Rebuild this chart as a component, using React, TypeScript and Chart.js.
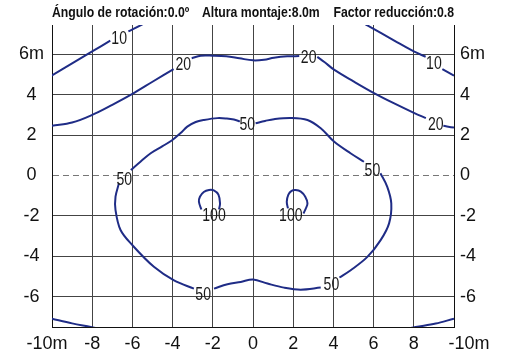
import React, { useEffect, useRef } from 'react';
import { Chart, registerables } from 'chart.js';

Chart.register(...registerables);

// ---- axes ----
const X_MIN = -10;
const X_MAX = 10;
const Y_MIN = -7.5;
const Y_MAX = 7.45;
const X_TICKS = [-10, -8, -6, -4, -2, 0, 2, 4, 6, 8, 10];
const X_TICK_LABELS = ['-10m', '-8', '-6', '-4', '-2', '0', '2', '4', '6', '8', '-10m'];
const Y_TICKS = [-6, -4, -2, 0, 2, 4, 6];
const Y_TICK_LABELS = ['-6', '-4', '-2', '0', '2', '4', '6m'];

const TITLE_PARTS = ['Ángulo de rotación:0.0º', 'Altura montaje:8.0m', 'Factor reducción:0.8'];

// ---- isolines (x m, y m); null = gap where a value label sits ----
type Pt = [number, number] | null;

const ISO_10_LEFT: Pt[] = [
  [-10.3, 4.77], [-10, 4.95], [-9, 5.55], [-8, 6.14], [-7.1, 6.68], null,
  [-6.2, 7.13], [-5.6, 7.43], [-5.3, 7.6],
];
const ISO_10_RIGHT: Pt[] = [
  [5.4, 7.6], [5.69, 7.43], [6.4, 7.03], [7.18, 6.59], [8, 6.14], [8.59, 5.88], null,
  [9.42, 5.27], [10, 4.94], [10.3, 4.77],
];
const ISO_20: Pt[] = [
  [-10.3, 2.4], [-10, 2.46], [-9, 2.62], [-8, 3.0], [-7, 3.5], [-6, 4.04], [-5, 4.64], [-3.95, 5.27], null,
  [-3.05, 5.8], [-2.6, 5.93], [-2, 5.93], [-1.33, 5.9], [-0.67, 5.8], [0, 5.7], [0.55, 5.73], [1.04, 5.83],
  [1.7, 5.9], [2.3, 5.91], null,
  [3.2, 5.87], [3.55, 5.62], [4.03, 5.24], [5, 4.66], [6.02, 4.08], [7, 3.58], [8.03, 3.09], [8.6, 2.84], null,
  [9.47, 2.46], [10, 2.37], [10.3, 2.33],
];
const ISO_50: Pt[] = [
  [-6.08, 0.27], [-5.6, 0.68], [-5.09, 1.1], [-4.5, 1.45], [-4.01, 1.76], [-3.6, 2.1], [-3.27, 2.42],
  [-2.85, 2.65], [-2.44, 2.75], [-1.77, 2.84], [-1.3, 2.82], [-0.95, 2.77], [-0.65, 2.68], null,
  [0.13, 2.59], [0.6, 2.7], [1.04, 2.79], [1.88, 2.85], [2.71, 2.75], [3.37, 2.34], [4.03, 1.68],
  [4.85, 1.1], [5.52, 0.68], null,
  [6.34, 0.11], [6.68, -0.56], [6.88, -1.38], [6.77, -2.37], [6.35, -3.2], [5.69, -4.03], [4.86, -4.69],
  [4.3, -5.05], null,
  [3.37, -5.55], [2.37, -5.65], [1.54, -5.55], [0.72, -5.35], [0, -5.15], [-0.61, -5.27], [-1.27, -5.38],
  [-1.94, -5.6], null,
  [-2.94, -5.6], [-3.93, -5.19], [-4.93, -4.52], [-6.0, -3.45], [-6.59, -2.7], [-6.84, -1.71],
  [-6.84, -1.05], [-6.67, -0.39],
];
const ISO_100_LEFT: Pt[] = [
  [-1.69, -1.68], [-1.64, -1.38], [-1.72, -0.95], [-1.95, -0.74], [-2.19, -0.72], [-2.45, -0.82],
  [-2.64, -1.05], [-2.69, -1.3], [-2.57, -1.68],
];
const ISO_100_RIGHT: Pt[] = [
  [1.74, -1.63], [1.68, -1.3], [1.76, -0.95], [1.92, -0.76], [2.12, -0.72], [2.38, -0.8],
  [2.6, -1.05], [2.71, -1.38], [2.62, -1.65], [2.51, -1.88],
];
const ISO_CORNER_LEFT: Pt[] = [[-10.3, -7.02], [-10, -7.09], [-9, -7.32], [-8.07, -7.5], [-7.6, -7.6]];
const ISO_CORNER_RIGHT: Pt[] = [[7.6, -7.6], [8.09, -7.5], [9.09, -7.33], [10, -7.09], [10.3, -7.02]];

const ISO_LINES = [ISO_10_LEFT, ISO_10_RIGHT, ISO_20, ISO_50, ISO_100_LEFT, ISO_100_RIGHT, ISO_CORNER_LEFT, ISO_CORNER_RIGHT];

const ISO_LABEL_TEXT = ['10', '10', '20', '20', '20', '50', '50', '50', '50', '50', '100', '100'];
const ISO_LABEL_X = [-6.66, 9.0, -3.47, 2.77, 9.09, -0.28, 5.94, -6.4, 3.9, -2.48, -1.94, 1.88];
const ISO_LABEL_Y = [6.81, 5.57, 5.51, 5.86, 2.56, 2.56, 0.27, -0.18, -5.39, -5.85, -1.94, -1.94];

const LINE_COLOR = '#1f2c86';
const GRID_COLOR = '#444444';
const TICK_FONT = { family: "'Liberation Sans', Arial, sans-serif", size: 18 };

function toSegments(pts: Pt[]) {
  const segs: { x: number; y: number }[][] = [];
  let cur: { x: number; y: number }[] = [];
  pts.forEach((p) => {
    if (p === null) {
      if (cur.length) segs.push(cur);
      cur = [];
    } else {
      cur.push({ x: p[0], y: p[1] });
    }
  });
  if (cur.length) segs.push(cur);
  return segs;
}

const isoLabelPlugin = {
  id: 'isoLabels',
  afterDatasetsDraw(chart: any) {
    const { ctx } = chart;
    const xs = chart.scales.x;
    const ys = chart.scales.y;
    ctx.save();
    ctx.font = "18px 'Liberation Sans', Arial, sans-serif";
    ctx.fillStyle = '#1a1a1a';
    ctx.textAlign = 'center';
    ctx.textBaseline = 'middle';
    ISO_LABEL_TEXT.forEach((t, i) => {
      const px = xs.getPixelForValue(ISO_LABEL_X[i]);
      const py = ys.getPixelForValue(ISO_LABEL_Y[i]);
      ctx.save();
      ctx.translate(px, py);
      ctx.scale(0.78, 1);
      ctx.fillText(t, 0, 1);
      ctx.restore();
    });
    ctx.restore();
  },
};

const titlePlugin = {
  id: 'isoTitle',
  afterDraw(chart: any) {
    const { ctx, chartArea } = chart;
    const base = 17;
    const sx = 0.875;
    ctx.save();
    ctx.font = "bold 14px 'Liberation Sans', Arial, sans-serif";
    ctx.fillStyle = '#111111';
    ctx.textBaseline = 'alphabetic';
    const draw = (text: string, x: number, align: CanvasTextAlign) => {
      ctx.save();
      ctx.translate(x, base);
      ctx.scale(sx, 1);
      ctx.textAlign = align;
      ctx.fillText(text, 0, 0);
      ctx.restore();
    };
    draw(TITLE_PARTS[0], chartArea.left, 'left');
    draw(TITLE_PARTS[1], chartArea.left + 150, 'left');
    draw(TITLE_PARTS[2], chartArea.right, 'right');
    ctx.restore();
  },
};

export default function App() {
  const canvasRef = useRef<HTMLCanvasElement | null>(null);

  useEffect(() => {
    if (!canvasRef.current) return;
    const datasets: any[] = [];
    ISO_LINES.forEach((line) => {
      toSegments(line).forEach((seg) => {
        datasets.push({
          data: seg,
          showLine: true,
          borderColor: LINE_COLOR,
          borderWidth: 2,
          pointRadius: 0,
          tension: 0.35,
          fill: false,
        });
      });
    });

    const yAxisCommon = {
      type: 'linear',
      min: Y_MIN,
      max: Y_MAX,
      afterBuildTicks: (scale: any) => {
        scale.ticks = Y_TICKS.map((v) => ({ value: v }));
      },
      ticks: {
        font: TICK_FONT,
        color: '#111111',
        callback: (v: any) => {
          const i = Y_TICKS.indexOf(Number(v));
          return i >= 0 ? Y_TICK_LABELS[i] : '';
        },
      },
    };

    const chart = new Chart(canvasRef.current, {
      type: 'scatter',
      data: { datasets },
      plugins: [isoLabelPlugin, titlePlugin],
      options: {
        animation: false,
        responsive: false,
        layout: { padding: { top: 25, left: 0, right: 0, bottom: 0 } },
        plugins: { legend: { display: false }, tooltip: { enabled: false }, title: { display: false } },
        scales: {
          x: {
            type: 'linear',
            position: 'bottom',
            min: X_MIN,
            max: X_MAX,
            afterBuildTicks: (scale: any) => {
              scale.ticks = X_TICKS.map((v) => ({ value: v }));
            },
            afterFit: (scale: any) => {
              scale.height = 29;
            },
            grid: { color: GRID_COLOR, lineWidth: 1, drawTicks: false },
            border: { display: true, color: '#111111', width: 1 },
            ticks: {
              font: TICK_FONT,
              color: '#111111',
              padding: 6,
              maxRotation: 0,
              autoSkip: false,
              callback: (v: any, i: number, arr: any[]) => {
                const idx = X_TICKS.indexOf(Number(v));
                const label = idx >= 0 ? X_TICK_LABELS[idx] : '';
                if (i === 0) return label + '\u00a0\u00a0';
                if (i === arr.length - 1) return '\u00a0\u00a0\u00a0\u00a0\u00a0\u00a0' + label;
                return label;
              },
            },
          },
          y: {
            ...yAxisCommon,
            position: 'left',
            afterFit: (scale: any) => {
              scale.width = 52;
            },
            grid: {
              color: (c: any) => (c.tick && c.tick.value === 0 ? '#777777' : GRID_COLOR),
              lineWidth: 1,
              drawTicks: false,
            },
            border: {
              display: true,
              color: '#111111',
              width: 1,
              dash: (c: any) => (c.tick && c.tick.value === 0 ? [6, 4] : []),
            },
            ticks: { ...yAxisCommon.ticks, crossAlign: 'center', padding: 8 },
          },
          y2: {
            ...yAxisCommon,
            position: 'right',
            afterFit: (scale: any) => {
              scale.width = 51;
            },
            grid: { drawOnChartArea: false, drawTicks: false },
            border: { display: true, color: '#111111', width: 1 },
            ticks: { ...yAxisCommon.ticks, crossAlign: 'near', padding: 6 },
          },
        },
      } as any,
    });
    return () => chart.destroy();
  }, []);

  return (
    <canvas
      ref={canvasRef}
      width={505}
      height={356}
      style={{ position: 'absolute', left: 0, top: 0, width: 505, height: 356, display: 'block', background: '#ffffff' }}
    />
  );
}
